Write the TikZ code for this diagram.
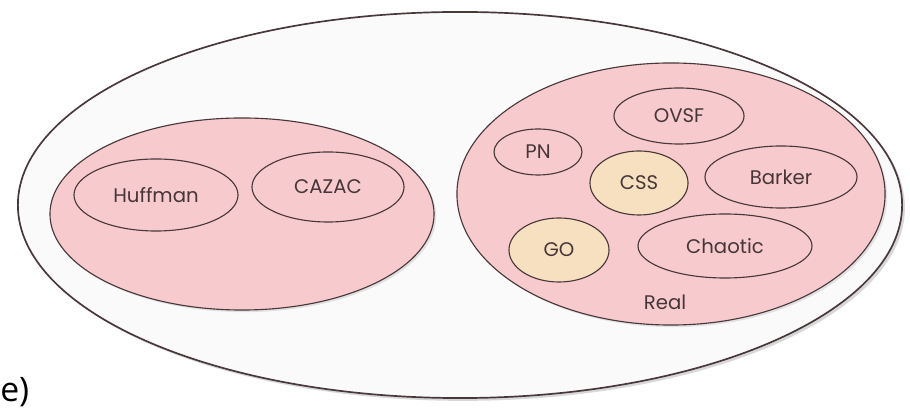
\documentclass[tikz,border=0pt]{standalone}
\usepackage{fontspec}
\setmainfont{Poppins}
\newfontfamily\labelfont{Open Sans}
\usetikzlibrary{shapes.geometric,shadows}

\definecolor{setpink}{RGB}{247,202,206}
\definecolor{codebeige}{RGB}{246,224,192}
\definecolor{rimgray}{RGB}{72,56,58}
\definecolor{textgray}{RGB}{70,54,56}
\definecolor{paper}{RGB}{250,250,250}

\begin{document}
\begin{tikzpicture}[x=0.025cm, y=-0.025cm,
	every node/.style={text=textgray, font=\fontsize{14}{16}\selectfont},
	setbox/.style={ellipse, draw=rimgray, fill=setpink, line width=0.8pt, inner sep=0pt,
		drop shadow={opacity=0.2, shadow xshift=1.5pt, shadow yshift=-1.5pt}},
	codebox/.style={ellipse, draw=rimgray, fill=setpink, line width=0.8pt, inner sep=0pt},
	seqbox/.style={codebox, fill=codebeige}]
	\useasboundingbox[fill=white] (0, 0) rectangle (910, 411);

	\node[ellipse, draw=rimgray, fill=paper, line width=1.2pt, minimum width=22.1cm, minimum height=9.65cm,
		drop shadow={opacity=0.3, shadow xshift=2pt, shadow yshift=-2pt}] (all) at (460, 205) {};

	% left set
	\node[setbox, minimum width=9.6cm, minimum height=4.8cm] (complex) at (242, 214) {};
	\node[codebox, minimum width=4.1cm, minimum height=1.8cm] (huffman) at (156, 195) {Huffman};
	\node[codebox, minimum width=3.8cm, minimum height=1.75cm] (cazac) at (328, 187) {CAZAC};

	% right set
	\node[setbox, minimum width=10.7cm, minimum height=6.55cm] (real) at (671, 194) {};
	\node[codebox, minimum width=3.25cm, minimum height=1.4cm] (ovsf) at (679, 116) {OVSF};
	\node[codebox, minimum width=2.2cm, minimum height=1.15cm] (pn) at (538, 152) {PN};
	\node[seqbox, minimum width=2.45cm, minimum height=1.6cm] (css) at (639, 183) {CSS};
	\node[codebox, minimum width=3.8cm, minimum height=1.55cm] (barker) at (781, 177) {Barker};
	\node[seqbox, minimum width=2.5cm, minimum height=1.6cm] (go) at (559, 250) {GO};
	\node[codebox, minimum width=4.35cm, minimum height=1.6cm] (chaotic) at (725, 246) {Chaotic};
	\node (reallabel) at (665, 302) {Real};

	\node[anchor=base west, inner sep=0pt, text=black, font=\labelfont\fontsize{24}{28}\selectfont] (tag) at (0, 402) {e)};
\end{tikzpicture}
\end{document}
